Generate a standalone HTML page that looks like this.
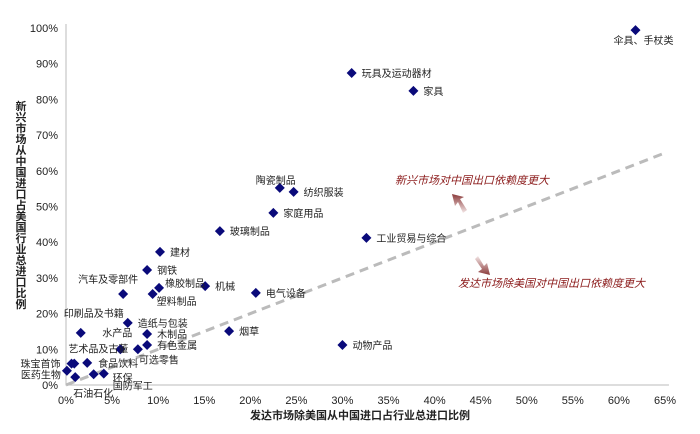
<!DOCTYPE html>
<html><head><meta charset="utf-8"><style>
body{margin:0;background:#fff;}
svg{display:block;font-family:"Liberation Sans","Noto Sans CJK SC",sans-serif;}
</style></head><body>
<svg id="chart" width="700" height="434">
<defs>
<linearGradient id="ga" x1="0" y1="1" x2="0" y2="0"><stop offset="0" stop-color="#f3e6e6"/><stop offset="1" stop-color="#8b3a3a"/></linearGradient>
<linearGradient id="gb" x1="0" y1="0" x2="0" y2="1"><stop offset="0" stop-color="#f3e6e6"/><stop offset="1" stop-color="#8b3a3a"/></linearGradient>
</defs>
<g id="axes"></g>
<g id="marks"></g>
<text x="360" y="419" text-anchor="middle" font-size="11" font-weight="bold" fill="#222">发达市场除美国从中国进口占行业总进口比例</text>
<text id="ytitle" font-size="11" font-weight="bold" fill="#222" text-anchor="middle"></text>
<text x="395" y="184" font-size="11" font-style="italic" fill="#8b1a1a">新兴市场对中国出口依赖度更大</text>
<text x="458" y="287" font-size="11" font-style="italic" fill="#8b1a1a">发达市场除美国对中国出口依赖度更大</text>
<path d="M463,213 L458,202 L455,206 L452,194 L464,197 L460,199 L467,210 Z" fill="url(#ga)"/>
<path d="M478,256 L484,266 L487,263 L490,275 L478,272 L482,269 L475,259 Z" fill="url(#gb)"/>
</svg>
<script>
const labels=["伞具、手杖类","玩具及运动器材","家具","陶瓷制品","纺织服装","家庭用品","工业贸易与综合","玻璃制品","建材","钢铁","机械","橡胶制品","塑料制品","汽车及零部件","电气设备","烟草","动物产品","印刷品及书籍","造纸与包装","木制品","有色金属","可选零售","艺术品及古董","食品饮料","水产品","珠宝首饰","医药生物","石油石化","环保","国防军工"];
const xVals=[61.8,31.0,37.7,23.2,24.7,22.5,32.6,16.7,10.2,8.8,15.1,10.1,9.4,6.2,20.6,17.7,30.0,1.6,6.7,8.8,8.8,7.8,5.9,2.3,0.9,0.6,0.1,1.0,3.0,4.1];
const yVals=[99.4,87.4,82.4,55.2,54.1,48.2,41.2,43.1,37.3,32.2,27.7,27.2,25.5,25.5,25.8,15.1,11.2,14.6,17.4,14.3,11.2,10.0,10.0,6.2,6.0,6.0,4.0,2.2,3.0,3.2];
const xTicks=[0,5,10,15,20,25,30,35,40,45,50,55,60,65];
const yTicks=[0,10,20,30,40,50,60,70,80,90,100];
const lp={"伞具、手杖类":[-22,14,"start"],"玩具及运动器材":[10,4,"start"],"家具":[10,4,"start"],"陶瓷制品":[-24,-4,"start"],"纺织服装":[10,4,"start"],"家庭用品":[10,4,"start"],"工业贸易与综合":[10,4,"start"],"玻璃制品":[10,4,"start"],"建材":[10,4,"start"],"钢铁":[10,4,"start"],"机械":[10,4,"start"],"橡胶制品":[6,-1,"start"],"塑料制品":[4,11,"start"],"汽车及零部件":[15,-11,"end"],"电气设备":[10,4,"start"],"烟草":[10,4,"start"],"动物产品":[10,4,"start"],"印刷品及书籍":[13,-16,"middle"],"造纸与包装":[10,4,"start"],"木制品":[10,4,"start"],"有色金属":[10,4,"start"],"可选零售":[1,14,"start"],"艺术品及古董":[8,3,"end"],"食品饮料":[11,4,"start"],"水产品":[58,-27,"end"],"珠宝首饰":[-11,4,"end"],"医药生物":[-6,8,"end"],"石油石化":[-2,20,"start"],"环保":[19,7,"start"],"国防军工":[9,16,"start"]};
const X=v=>66+v*9.215, Y=v=>385-v*3.57;
const ns="http://www.w3.org/2000/svg";
const ax=document.getElementById('axes'), mk=document.getElementById('marks');
function mkEl(t,a,p){const e=document.createElementNS(ns,t);for(const k in a)e.setAttribute(k,a[k]);p.appendChild(e);return e;}
const yt=document.getElementById('ytitle');
[..."新兴市场从中国进口占美国行业总进口比例"].forEach((c,i)=>{const s=mkEl('tspan',{x:21,y:110+i*11},yt);s.textContent=c;});
const frame=mkEl('path',{d:`M${X(0)},${Y(100)-4} V${Y(0)} H${X(65)+4}`,stroke:'#bbb',fill:'none'},ax);


xTicks.forEach(t=>{const e=mkEl('text',{x:X(t),y:404,'text-anchor':'middle','font-size':11,fill:'#222'},ax);e.textContent=t+'%';

});
yTicks.forEach(t=>{const e=mkEl('text',{x:58,y:Y(t)+4,'text-anchor':'end','font-size':11,fill:'#222'},ax);e.textContent=t+'%';

});
const ref=mkEl('line',{x1:X(0),y1:Y(0),x2:X(65),y2:Y(65),stroke:'#bbb','stroke-width':3,'stroke-dasharray':'9,6'},ax);


labels.forEach((l,i)=>{const cx=X(xVals[i]),cy=Y(yVals[i]);
const d=mkEl('path',{d:`M${cx},${cy-5} L${cx+5},${cy} L${cx},${cy+5} L${cx-5},${cy} Z`,fill:'#0a0a7a'},mk);


const p=lp[l]||[10,4,"start"];
const t=mkEl('text',{x:cx+p[0],y:cy+p[1],'text-anchor':p[2],'font-size':10,fill:'#222'},mk);t.textContent=l;

});
</script>
</body></html>
